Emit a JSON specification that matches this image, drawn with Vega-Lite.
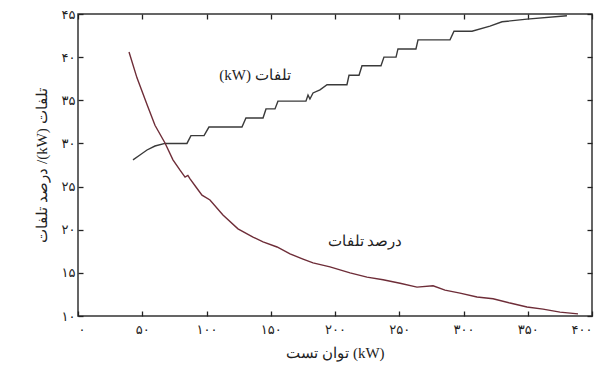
{
  "$schema": "https://vega.github.io/schema/vega-lite/v6.json",
  "width": 514,
  "height": 302,
  "autosize": {"type": "none"},
  "padding": {"left": 78, "top": 14, "right": 12, "bottom": 56},
  "background": "white",
  "config": {
    "view": {"stroke": "#333333", "strokeWidth": 1.5},
    "axis": {
      "grid": false,
      "domain": false,
      "tickColor": "#222222",
      "tickWidth": 1.3,
      "tickSize": -5,
      "labelFont": "DejaVu Sans",
      "labelFontSize": 13,
      "labelColor": "#222222",
      "titleFont": "Liberation Serif",
      "titleFontSize": 15,
      "titleFontWeight": "normal",
      "titleColor": "#222222"
    }
  },
  "datasets": {
    "losses": [
      {"power": 42.8, "kw": 28.1},
      {"power": 48.2, "kw": 28.66},
      {"power": 53.7, "kw": 29.24},
      {"power": 59.9, "kw": 29.7},
      {"power": 67.7, "kw": 30.0},
      {"power": 84.8, "kw": 30.0},
      {"power": 87.9, "kw": 30.9},
      {"power": 98.1, "kw": 30.9},
      {"power": 101.9, "kw": 31.9},
      {"power": 127.6, "kw": 31.9},
      {"power": 130.7, "kw": 32.95},
      {"power": 144.0, "kw": 32.95},
      {"power": 146.3, "kw": 34.0},
      {"power": 153.3, "kw": 34.0},
      {"power": 155.6, "kw": 34.9},
      {"power": 177.4, "kw": 34.9},
      {"power": 179.0, "kw": 35.6},
      {"power": 180.5, "kw": 35.15},
      {"power": 182.9, "kw": 35.85},
      {"power": 188.3, "kw": 36.2},
      {"power": 193.8, "kw": 36.8},
      {"power": 209.3, "kw": 36.8},
      {"power": 210.9, "kw": 37.9},
      {"power": 218.7, "kw": 37.9},
      {"power": 221.0, "kw": 39.0},
      {"power": 235.8, "kw": 39.0},
      {"power": 238.1, "kw": 40.0},
      {"power": 247.5, "kw": 40.0},
      {"power": 249.0, "kw": 40.95},
      {"power": 263.0, "kw": 40.95},
      {"power": 264.6, "kw": 42.0},
      {"power": 289.5, "kw": 42.0},
      {"power": 292.6, "kw": 43.0},
      {"power": 306.6, "kw": 43.0},
      {"power": 320.6, "kw": 43.6},
      {"power": 330.0, "kw": 44.1},
      {"power": 349.4, "kw": 44.4},
      {"power": 380.5, "kw": 44.8}
    ],
    "percent": [
      {"power": 39.7, "pct": 40.6},
      {"power": 45.9, "pct": 37.6},
      {"power": 53.7, "pct": 34.5},
      {"power": 59.9, "pct": 32.1},
      {"power": 67.7, "pct": 30.05},
      {"power": 73.9, "pct": 28.1},
      {"power": 79.4, "pct": 26.9},
      {"power": 83.3, "pct": 26.1},
      {"power": 85.5, "pct": 26.3},
      {"power": 87.2, "pct": 25.9},
      {"power": 91.8, "pct": 24.95},
      {"power": 96.5, "pct": 24.0},
      {"power": 102.7, "pct": 23.45},
      {"power": 112.8, "pct": 21.7},
      {"power": 124.5, "pct": 20.1},
      {"power": 136.2, "pct": 19.15},
      {"power": 144.0, "pct": 18.6},
      {"power": 154.9, "pct": 18.0},
      {"power": 165.0, "pct": 17.2},
      {"power": 175.1, "pct": 16.6},
      {"power": 182.9, "pct": 16.15},
      {"power": 196.1, "pct": 15.7},
      {"power": 211.7, "pct": 15.0},
      {"power": 224.9, "pct": 14.5},
      {"power": 237.4, "pct": 14.2},
      {"power": 250.6, "pct": 13.8},
      {"power": 263.8, "pct": 13.35},
      {"power": 276.3, "pct": 13.5},
      {"power": 285.6, "pct": 13.0},
      {"power": 297.3, "pct": 12.65},
      {"power": 310.5, "pct": 12.2},
      {"power": 323.0, "pct": 12.0},
      {"power": 336.2, "pct": 11.5},
      {"power": 349.4, "pct": 11.05},
      {"power": 361.9, "pct": 10.8},
      {"power": 375.1, "pct": 10.45},
      {"power": 389.1, "pct": 10.25}
    ]
  },
  "layer": [
    {
      "data": {"name": "losses"},
      "mark": {"type": "line", "color": "#3a3a3a", "strokeWidth": 1.4},
      "encoding": {
        "x": {
          "field": "power",
          "type": "quantitative",
          "scale": {"domain": [0, 400], "nice": false, "zero": false},
          "axis": {
            "orient": "bottom",
            "title": "توان تست (kW)",
            "values": [0, 50, 100, 150, 200, 250, 300, 350, 400],
            "labelPadding": 12,
            "titlePadding": 9,
            "labelExpr": "replace(replace(replace(replace(replace(replace(datum.label, regexp('0','g'), '۰'), regexp('1','g'), '۱'), regexp('2','g'), '۲'), regexp('3','g'), '۳'), regexp('4','g'), '۴'), regexp('5','g'), '۵')"
          }
        },
        "y": {
          "field": "kw",
          "type": "quantitative",
          "scale": {"domain": [10, 45], "nice": false, "zero": false},
          "axis": {
            "orient": "left",
            "title": "درصد تلفات /(kW) تلفات",
            "values": [10, 15, 20, 25, 30, 35, 40, 45],
            "labelPadding": 8,
            "titlePadding": 12,
            "labelExpr": "replace(replace(replace(replace(replace(replace(datum.label, regexp('0','g'), '۰'), regexp('1','g'), '۱'), regexp('2','g'), '۲'), regexp('3','g'), '۳'), regexp('4','g'), '۴'), regexp('5','g'), '۵')"
          }
        }
      }
    },
    {
      "data": {"name": "percent"},
      "mark": {"type": "line", "color": "#6e2d38", "strokeWidth": 1.4},
      "encoding": {
        "x": {
          "field": "power",
          "type": "quantitative",
          "axis": {"orient": "top", "title": null, "labels": false, "values": [0, 50, 100, 150, 200, 250, 300, 350, 400]}
        },
        "y": {
          "field": "pct",
          "type": "quantitative",
          "axis": {"orient": "right", "title": null, "labels": false, "values": [10, 15, 20, 25, 30, 35, 40, 45]}
        }
      }
    },
    {
      "data": {"values": [{"label": "(kW) تلفات"}]},
      "mark": {"type": "text", "font": "Liberation Serif", "fontSize": 15, "color": "#222222"},
      "encoding": {
        "text": {"field": "label"},
        "x": {"datum": 137.7, "type": "quantitative", "axis": null},
        "y": {"datum": 37.9, "type": "quantitative", "axis": null}
      }
    },
    {
      "data": {"values": [{"label": "درصد تلفات"}]},
      "mark": {"type": "text", "font": "Liberation Serif", "fontSize": 15, "color": "#222222"},
      "encoding": {
        "text": {"field": "label"},
        "x": {"datum": 223.3, "type": "quantitative", "axis": null},
        "y": {"datum": 18.7, "type": "quantitative", "axis": null}
      }
    }
  ],
  "resolve": {"axis": {"x": "independent", "y": "independent"}}
}
